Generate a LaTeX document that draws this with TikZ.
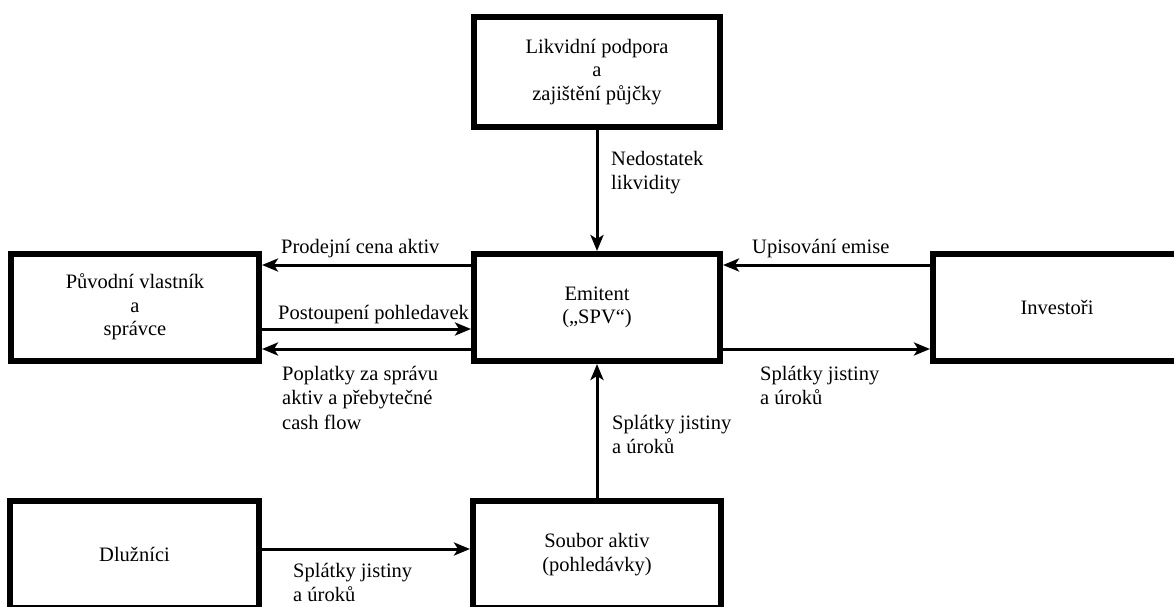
\documentclass[tikz,border=0pt]{standalone}
\usepackage{fontspec}
\setmainfont{Liberation Serif}
\usetikzlibrary{arrows.meta}
\begin{document}
\begin{tikzpicture}[x=1pt,y=-1pt,
  box/.style={draw, line width=6pt, minimum width=246pt, minimum height=107pt,
    align=center, font=\fontsize{20.5}{23.5}\selectfont, inner sep=0pt},
  flow/.style={line width=3pt, -{Stealth[length=16pt,width=13pt,inset=4pt]}},
  lbl/.style={font=\fontsize{20.5}{24.5}\selectfont, align=left, inner sep=0pt, anchor=north west}]
\useasboundingbox (0,0) rectangle (1174,607);
% boxes
\node[box, minimum height=109pt] (liq) at (597,72) {Likvidní podpora\\a\\zajištění půjčky};
\node[box] (emit) at (597,307.5) {Emitent\\(„SPV“)};
\node[box, minimum width=248pt] (inv) at (1057,307.5) {Investoři};
\node[box, minimum width=248pt] (orig) at (135,307) {Původní vlastník\\a\\správce};
\node[box, minimum width=249pt] (debt) at (134.5,554.5) {Dlužníci};
\node[box, minimum width=248pt] (pool) at (597,554.5) {Soubor aktiv\\(pohledávky)};
% levels
\coordinate (ya) at (0,265);
\coordinate (yb) at (0,329);
\coordinate (yc) at (0,349);
\coordinate (yd) at (0,549);
% connectors
\draw[flow] (liq) -- (emit);
\draw[flow] (pool) -- (emit);
\draw[flow] (emit.west |- ya) -- (orig.east |- ya);
\draw[flow] (orig.east |- yb) -- (emit.west |- yb);
\draw[flow] (emit.west |- yc) -- (orig.east |- yc);
\draw[flow] (inv.west |- ya) -- (emit.east |- ya);
\draw[flow] (emit.east |- yc) -- (inv.west |- yc);
\draw[flow] (debt.east |- yd) -- (pool.west |- yd);
% labels
\node[lbl] (l1) at (611,151) {Nedostatek\\likvidity};
\node[lbl] (l2) at (281,239) {Prodejní cena aktiv};
\node[lbl] (l3) at (278,305) {Postoupení pohledavek};
\node[lbl] (l4) at (282,366) {Poplatky za správu\\aktiv a přebytečné\\cash flow};
\node[lbl] (l5) at (752,239) {Upisování emise};
\node[lbl] (l6) at (760,366) {Splátky jistiny\\a úroků};
\node[lbl] (l7) at (612,415) {Splátky jistiny\\a úroků};
\node[lbl] (l8) at (293,563) {Splátky jistiny\\a úroků};
\end{tikzpicture}
\end{document}
